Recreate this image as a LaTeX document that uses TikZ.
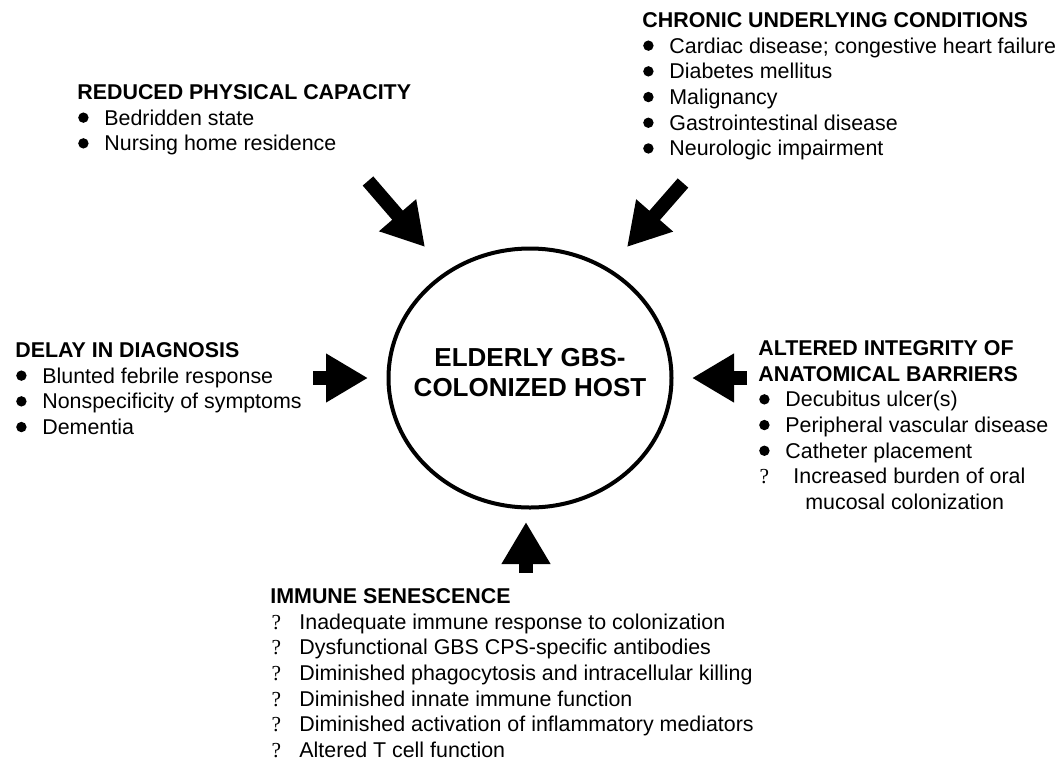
\documentclass[tikz,border=0pt]{standalone}
\usepackage{fontspec}
\setmainfont{Liberation Sans}
\newfontfamily\qfont{Liberation Serif}
\usetikzlibrary{shapes.geometric, arrows.meta, positioning}

\newcommand{\dotmark}{\tikz[baseline={(0,-3.7pt)}]\fill (0,0) circle (2.6pt);}
\newcommand{\itm}[1]{\makebox[13.5pt][l]{\hspace{0.4pt}\dotmark}#1}
\newcommand{\qitm}[2][14.5pt]{\makebox[#1][l]{\hspace{0.6pt}{\qfont ?}}#2}

\begin{document}
\begin{tikzpicture}[x=0.5pt, y=-0.5pt,
  factor/.style={anchor=north west, align=left, inner sep=0pt,
    font=\fontsize{10.7}{12.85}\selectfont},
  fatarrow/.style={line width=7pt, -{Triangle[length=21pt, width=23pt]}}]
  \useasboundingbox (0,0) rectangle (1061,762);

  \node[draw, ellipse, line width=2pt, minimum width=141.5pt, minimum height=129.5pt, inner sep=0pt] (host) at (530,378) {};
  \node[align=center, inner sep=0pt, font=\fontsize{13}{15}\selectfont\bfseries] (hostlabel) at (530,373) {ELDERLY GBS-\\COLONIZED HOST};

  \node[factor] (chronic) at (642,12) {\textbf{CHRONIC UNDERLYING CONDITIONS}\\
    \itm{Cardiac disease; congestive heart failure}\\
    \itm{Diabetes mellitus}\\
    \itm{Malignancy}\\
    \itm{Gastrointestinal disease}\\
    \itm{Neurologic impairment}};
  \node[factor] (physical) at (77,84) {\textbf{REDUCED PHYSICAL CAPACITY}\\
    \itm{Bedridden state}\\
    \itm{Nursing home residence}};
  \node[factor] (delay) at (15,342) {\textbf{DELAY IN DIAGNOSIS}\\
    \itm{Blunted febrile response}\\
    \itm{Nonspecificity of symptoms}\\
    \itm{Dementia}};
  \node[factor] (barriers) at (758,340) {\textbf{ALTERED INTEGRITY OF}\\
    \textbf{ANATOMICAL BARRIERS}\\
    \itm{Decubitus ulcer(s)}\\
    \itm{Peripheral vascular disease}\\
    \itm{Catheter placement}\\
    \qitm[17.5pt]{Increased burden of oral}\\
    \hspace*{23.5pt}mucosal colonization};
  \node[factor] (immune) at (270,588) {\textbf{IMMUNE SENESCENCE}\\
    \qitm{Inadequate immune response to colonization}\\
    \qitm{Dysfunctional GBS CPS-specific antibodies}\\
    \qitm{Diminished phagocytosis and intracellular killing}\\
    \qitm{Diminished innate immune function}\\
    \qitm{Diminished activation of inflammatory mediators}\\
    \qitm{Altered T cell function}};

  \coordinate (nwtail) at (368,181);
  \coordinate (nwtip) at (425,247);
  \coordinate (netail) at (683,183);
  \coordinate (netip) at (627,247);
  \coordinate (wtail) at (313,378);
  \coordinate (wtip) at (368,378);
  \coordinate (etail) at (747,378);
  \coordinate (etip) at (692,378);
  \coordinate (stail) at (526,573);
  \coordinate (stip) at (526,522);
  \draw[fatarrow] (nwtail) -- (nwtip);
  \draw[fatarrow] (netail) -- (netip);
  \draw[fatarrow] (wtail) -- (wtip);
  \draw[fatarrow] (etail) -- (etip);
  \draw[fatarrow] (stail) -- (stip);
\end{tikzpicture}
\end{document}
